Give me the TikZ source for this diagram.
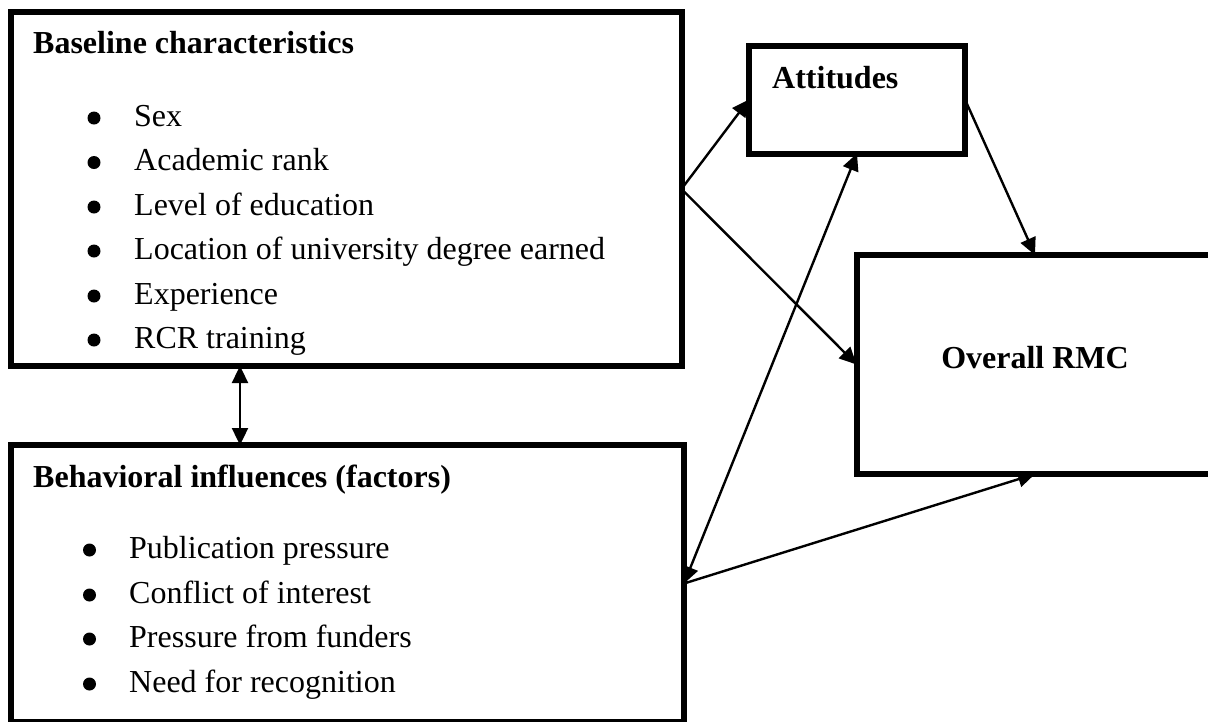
\documentclass[tikz,border=0pt]{standalone}
\usepackage{fontspec}
\setmainfont{Liberation Serif}
\usetikzlibrary{arrows.meta}
\begin{document}
\begin{tikzpicture}[x=1pt,y=-1pt,
  box/.style={draw=black,line width=6pt,rectangle,inner sep=0pt,outer sep=0pt,fill=white},
  ttl/.style={anchor=base west,inner sep=0pt,font=\fontsize{32}{38}\selectfont\bfseries},
  itm/.style={anchor=base west,inner sep=0pt,font=\fontsize{32}{38}\selectfont},
  dot/.style={circle,fill=black,inner sep=0pt,minimum size=13pt},
  tip/.style={Triangle[length=17pt,width=16pt]},
  conn/.style={line width=2.4pt,-{Triangle[length=17pt,width=16pt]}},
  biconn/.style={line width=2.4pt,{Triangle[length=17pt,width=16pt]}-{Triangle[length=17pt,width=16pt]}}]
\useasboundingbox (0,0) rectangle (1208,721);
\clip (0,0) rectangle (1208,721);

% boxes
\node[box,minimum width=671pt,minimum height=354pt] (base) at (346,189) {};
\node[box,minimum width=673pt,minimum height=277pt] (behav) at (347.5,583.5) {};
\node[box,minimum width=216pt,minimum height=108pt] (att) at (857,99.5) {};
\node[box,minimum width=357pt,minimum height=219pt] (rmc) at (1035,364.5) {};

% baseline texts
\node[ttl] (baset) at (33,53) {Baseline characteristics};
\node[dot] (bd1) at (94,118) {}; \node[itm] (bi1) at (134,126) {Sex};
\node[dot] (bd2) at (94,162.5) {}; \node[itm] (bi2) at (134,170.5) {Academic rank};
\node[dot] (bd3) at (94,207) {}; \node[itm] (bi3) at (134,215) {Level of education};
\node[dot] (bd4) at (94,251) {}; \node[itm] (bi4) at (134,259) {Location of university degree earned};
\node[dot] (bd5) at (94,296) {}; \node[itm] (bi5) at (134,304) {Experience};
\node[dot] (bd6) at (94,340) {}; \node[itm] (bi6) at (134,348) {RCR training};

% behavioral texts
\node[ttl] (behavt) at (33,487) {Behavioral influences (factors)};
\node[dot] (hd1) at (89.5,550) {}; \node[itm] (hi1) at (129,558) {Publication pressure};
\node[dot] (hd2) at (89.5,595) {}; \node[itm] (hi2) at (129,603) {Conflict of interest};
\node[dot] (hd3) at (89.5,639) {}; \node[itm] (hi3) at (129,647) {Pressure from funders};
\node[dot] (hd4) at (89.5,684) {}; \node[itm] (hi4) at (129,692) {Need for recognition};

% other titles
\node[ttl] (attt) at (772,88) {Attitudes};
\node[ttl,anchor=base] (rmct) at (1035,368) {Overall RMC};

% connectors
\draw[conn] (base.east) -- (att.west);
\draw[conn] (base.east) -- (rmc.west);
\draw[conn] (att.east) -- (rmc.north);
\draw[biconn] (att.south) -- (behav.east);
\draw[conn] (behav.east) -- (rmc.south);
\draw[biconn] ([xshift=-106pt]base.south) -- ([xshift=-107.5pt]behav.north);
\end{tikzpicture}
\end{document}
